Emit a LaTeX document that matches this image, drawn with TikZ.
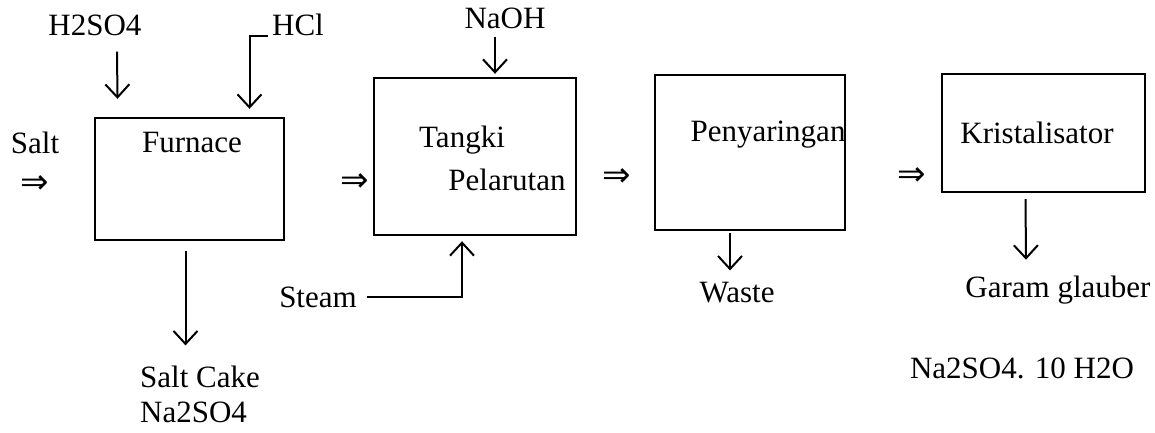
\documentclass[tikz,border=0pt]{standalone}
\usepackage{fontspec}
\setmainfont{Liberation Serif}
\newfontfamily\arrowfont{DejaVu Sans}
\usetikzlibrary{arrows.meta, positioning, calc}

\begin{document}
\begin{tikzpicture}[
    x=1pt, y=-1pt,
    font=\fontsize{31}{35}\selectfont,
    line/.style={draw, line width=2pt, -{Straight Barb[length=13pt,width=24pt,line width=2pt]}},
    unit/.style={draw, line width=2.4pt, inner sep=0pt},
    lbl/.style={inner sep=0pt},
    feed/.style={inner sep=0pt, font=\arrowfont\fontsize{34}{38}\selectfont}
]
    \useasboundingbox (0,0) rectangle (1155,432);

    % Units
    \node[unit, minimum width=189pt, minimum height=122pt] (furnace) at (189.5,179) {};
    \node[unit, minimum width=202pt, minimum height=157pt] (tangki) at (475,156.5) {};
    \node[unit, minimum width=190pt, minimum height=155pt] (saring) at (750,152.5) {};
    \node[unit, minimum width=203pt, minimum height=118pt] (kristal) at (1043.5,133) {};

    % Unit names
    \node[lbl] (furnaceT) at (192,142) {Furnace};
    \node[lbl] (tangkiT) at (462,140) {Tangki};
    \node[lbl] (larutT) at (507,180) {Pelarutan};
    \node[lbl] (saringT) at (768,135) {Penyaringan};
    \node[lbl] (kristalT) at (1037,133) {Kristalisator};

    % Streams
    \node[lbl] (salt) at (35,143) {Salt};
    \node[lbl] (h2so4) at (95,25) {H2SO4};
    \node[lbl] (hcl) at (298,25) {HCl};
    \node[lbl] (naoh) at (505,18) {NaOH};
    \node[lbl] (steam) at (318,297) {Steam};
    \node[lbl, align=left, anchor=west] (cake) at (140,394) {Salt Cake\\Na2SO4};
    \node[lbl] (waste) at (737,293) {Waste};
    \node[lbl] (garam) at (1058,290) {Garam glauber};
    \node[lbl] (hidrat) at (1022,368) {Na2SO4. 10 H2O};

    % Flow symbols
    \node[feed] (dbl1) at (35,185) {⇒};
    \node[feed] (dbl2) at (355,183) {⇒};
    \node[feed] (dbl3) at (617,178) {⇒};
    \node[feed] (dbl4) at (912,177) {⇒};

    % Arrows
    \path[line] ([xshift=22pt,yshift=-16pt]h2so4.south) -- ([xshift=-72pt,yshift=18pt]furnace.north);
    \path[line] ([xshift=-4pt]hcl.base west) -| ([xshift=60pt,yshift=8pt]furnace.north);
    \path[line] ([xshift=-4pt,yshift=-10pt]furnace.south) -- ($([xshift=-4pt]furnace.south |- cake.north)+(0,-20)$);
    \path[line] ([xshift=-10pt,yshift=-8pt]naoh.south) -- ([xshift=20pt,yshift=3pt]tangki.north);
    \path[line] ([xshift=10pt]steam.east) -| ([xshift=-13pt,yshift=-5pt]tangki.south);
    \path[line] ([xshift=-20pt,yshift=-2pt]saring.south) -- ([xshift=-7pt,yshift=12pt]waste.north);
    \path[line] ([xshift=-18pt,yshift=-6pt]kristal.south) -- ([xshift=-32pt,yshift=16pt]garam.north);

\end{tikzpicture}
\end{document}
